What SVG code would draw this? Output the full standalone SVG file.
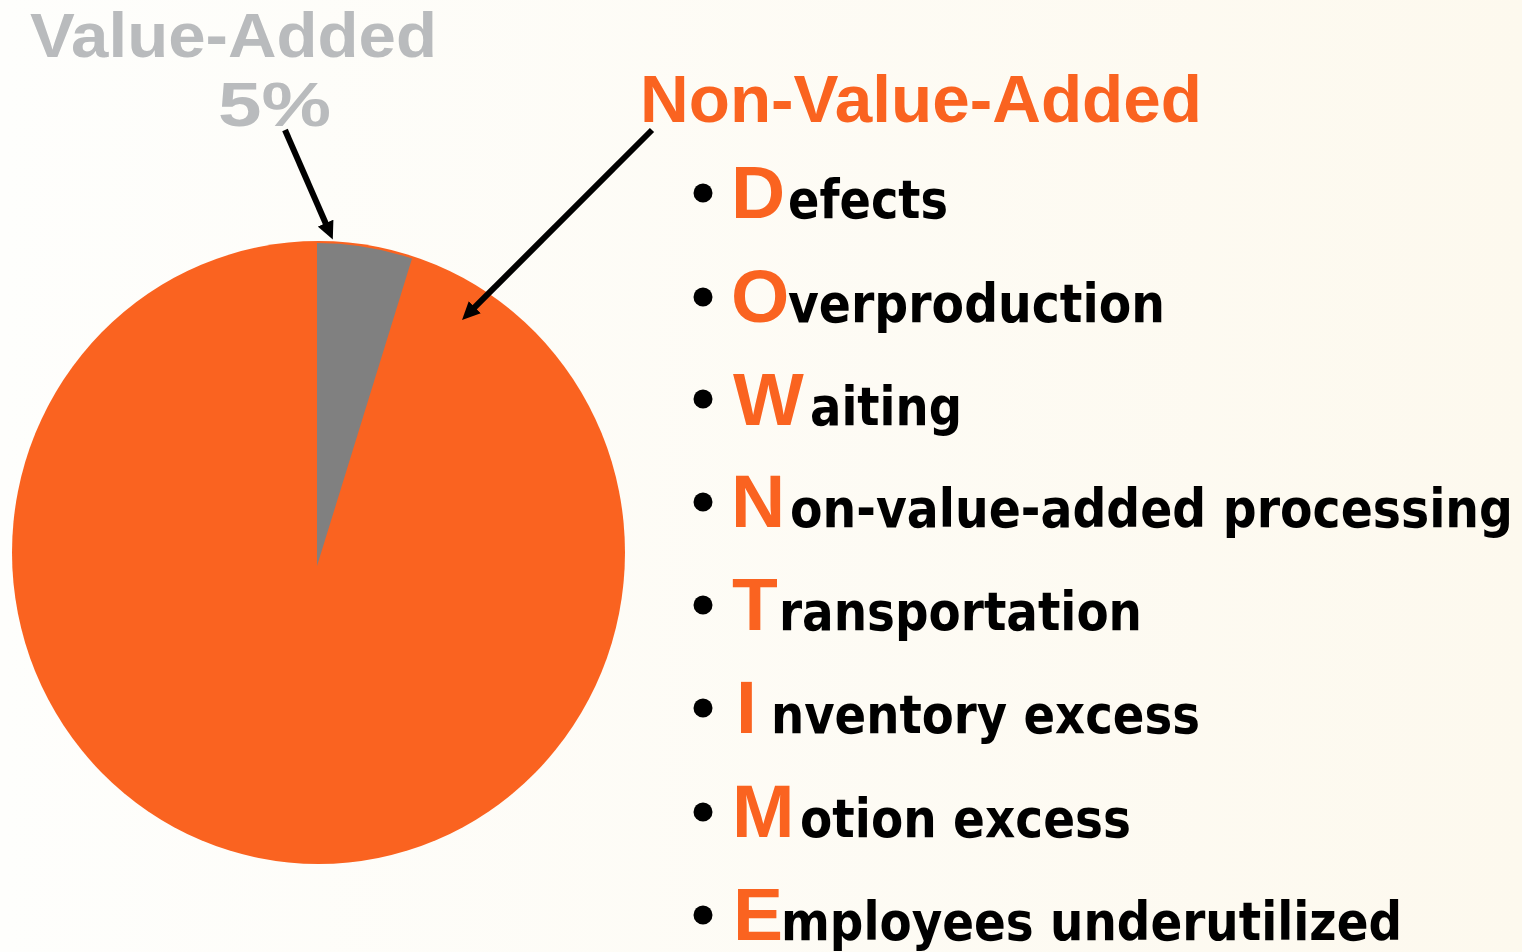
<svg xmlns="http://www.w3.org/2000/svg" width="1522" height="952" viewBox="0 0 1522 952">
<defs>
<linearGradient id="bg" x1="0" y1="0" x2="1" y2="0">
<stop offset="0" stop-color="#fefefc"/>
<stop offset="1" stop-color="#fdf9ee"/>
</linearGradient>
<marker id="ah" viewBox="0 0 18 17" refX="7" refY="8.5" markerWidth="18" markerHeight="17" markerUnits="userSpaceOnUse" orient="auto">
<path d="M0,0 L18,8.5 L0,17 Z" fill="#000"/>
</marker>
<style>
.lbl{font-family:"Liberation Sans",Arial,sans-serif;font-weight:bold}
.ini{font-family:"Liberation Sans",Arial,sans-serif;font-weight:bold;font-size:75px;fill:#fa6320}
.rest{font-family:"DejaVu Sans",Verdana,sans-serif;font-weight:bold;font-size:53px;fill:#000}
.bul{fill:#000}
.arr{stroke:#000;stroke-width:6;fill:none;marker-end:url(#ah)}
</style>
</defs>
<rect x="0" y="0" width="1522" height="952" fill="url(#bg)"/>

<g id="pie">
<ellipse cx="318.5" cy="552.5" rx="306.5" ry="311.5" fill="#fa6320"/>
<path d="M317,566 L317,243 A305,310 0 0 1 412,258.5 Z" fill="#808080"/>
</g>

<g id="value-added-label">
<text class="lbl" x="30" y="57" font-size="63" fill="#b9bbbd" textLength="407" lengthAdjust="spacingAndGlyphs">Value-Added</text>
<text class="lbl" x="218" y="126" font-size="63" fill="#b9bbbd" textLength="113" lengthAdjust="spacingAndGlyphs">5%</text>
</g>

<g id="non-value-added-label">
<text class="lbl" x="640" y="122" font-size="66" fill="#fa6320" textLength="562" lengthAdjust="spacingAndGlyphs">Non-Value-Added</text>
</g>

<g id="connectors">
<line class="arr" x1="285" y1="130" x2="328.4" y2="229.5"/>
<line class="arr" x1="652" y1="130" x2="469.8" y2="312.2"/>
</g>

<g id="item-defects">
<circle class="bul" cx="703" cy="193" r="9.5"/>
<text class="ini" x="731" y="218">D</text>
<text class="rest" x="788" y="218" textLength="160" lengthAdjust="spacingAndGlyphs">efects</text>
</g>
<g id="item-overproduction">
<circle class="bul" cx="703" cy="297" r="9.5"/>
<text class="ini" x="731" y="322">O</text>
<text class="rest" x="788" y="322" textLength="377" lengthAdjust="spacingAndGlyphs">verproduction</text>
</g>
<g id="item-waiting">
<circle class="bul" cx="703" cy="399" r="9.5"/>
<text class="ini" x="733" y="425">W</text>
<text class="rest" x="810" y="425" textLength="152" lengthAdjust="spacingAndGlyphs">aiting</text>
</g>
<g id="item-nonvalue">
<circle class="bul" cx="703" cy="502" r="9.5"/>
<text class="ini" x="731" y="527">N</text>
<text class="rest" x="790" y="527" textLength="723" lengthAdjust="spacingAndGlyphs">on-value-added processing</text>
</g>
<g id="item-transportation">
<circle class="bul" cx="703" cy="605" r="9.5"/>
<text class="ini" x="732" y="630">T</text>
<text class="rest" x="779" y="630" textLength="363" lengthAdjust="spacingAndGlyphs">ransportation</text>
</g>
<g id="item-inventory">
<circle class="bul" cx="703" cy="708" r="9.5"/>
<text class="ini" x="736" y="733">I</text>
<text class="rest" x="771" y="733" textLength="429" lengthAdjust="spacingAndGlyphs">nventory excess</text>
</g>
<g id="item-motion">
<circle class="bul" cx="703" cy="812" r="9.5"/>
<text class="ini" x="732" y="837">M</text>
<text class="rest" x="800" y="837" textLength="331" lengthAdjust="spacingAndGlyphs">otion excess</text>
</g>
<g id="item-employees">
<circle class="bul" cx="703" cy="915" r="9.5"/>
<text class="ini" x="733" y="940">E</text>
<text class="rest" x="781" y="940" textLength="621" lengthAdjust="spacingAndGlyphs">mployees underutilized</text>
</g>
</svg>
